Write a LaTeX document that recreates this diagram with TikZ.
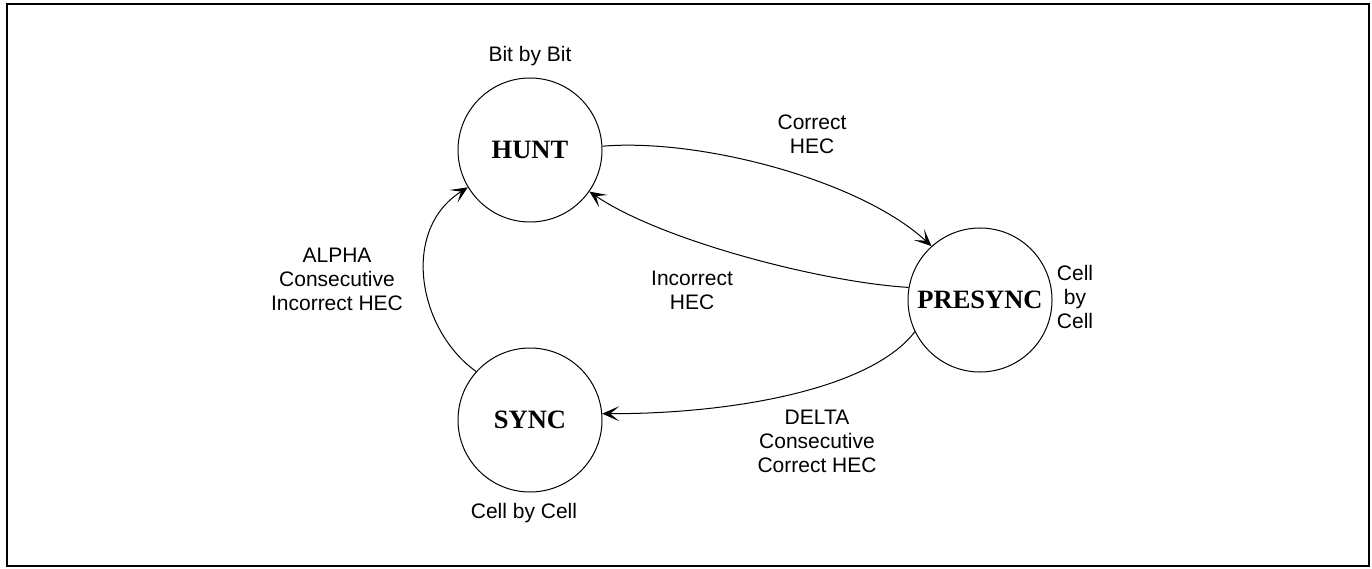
\documentclass[tikz,border=0pt]{standalone}
\usepackage{fontspec}
\setmainfont{Liberation Sans}
\newfontfamily\statefont{Liberation Serif}
\usetikzlibrary{arrows.meta}
\begin{document}
\begin{tikzpicture}[x=1pt,y=-1pt,
  statenode/.style={circle,draw,line width=1pt,minimum size=144pt,inner sep=0pt,
    font=\statefont\bfseries\fontsize{26.5}{30}\selectfont},
  lbl/.style={align=center,inner sep=0pt,font=\fontsize{21}{24}\selectfont},
  conn/.style={line width=1pt,-{Stealth[length=17pt,width=15pt,inset=9pt]}}]
\useasboundingbox (0,0) rectangle (1372,569);
\draw[line width=2pt] (6.5,4) rectangle (1369,566);
\node[statenode] (hunt) at (530,150) {HUNT};
\node[statenode] (presync) at (980,300) {PRESYNC};
\node[statenode] (sync) at (530,420) {SYNC};
\node[lbl] (lbit) at (530,56) {Bit by Bit};
\node[lbl] (lcorr) at (812,134) {Correct\\HEC};
\node[lbl] (lincorr) at (692,290) {Incorrect\\HEC};
\node[lbl] (lalpha) at (337,279) {ALPHA\\Consecutive\\Incorrect HEC};
\node[lbl] (lcellr) at (1075,297) {Cell\\by\\Cell};
\node[lbl] (ldelta) at (817,441) {DELTA\\Consecutive\\Correct HEC};
\node[lbl] (lcellb) at (524,513) {Cell by Cell};
\draw[conn] (hunt.3) .. controls (700,138) and (860,180) .. (presync.132);
\draw[conn] (presync.170) .. controls (820,282) and (660,240) .. (hunt.-35);
\draw[conn] (presync.206) .. controls (870,390) and (730,414) .. (sync.5);
\draw[conn] (sync.138) .. controls (418,330) and (400,230) .. (hunt.211);
\end{tikzpicture}
\end{document}
